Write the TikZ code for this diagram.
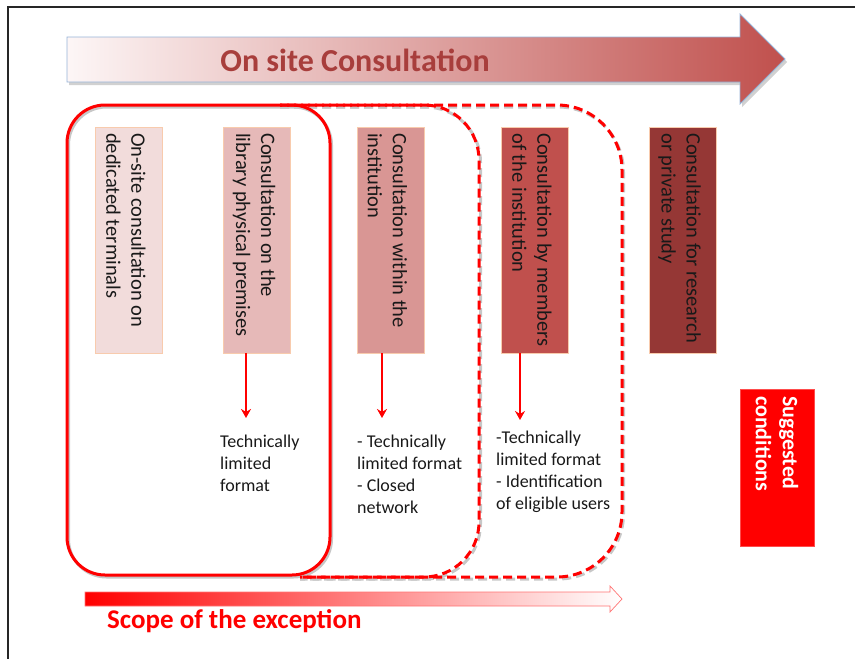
\documentclass[tikz,border=0pt]{standalone}
\usepackage{fontspec}
\setmainfont{Carlito}
\usetikzlibrary{arrows.meta}
\definecolor{c1}{HTML}{F2DCDB}
\definecolor{c2}{HTML}{E6B9B8}
\definecolor{c3}{HTML}{D99694}
\definecolor{c4}{HTML}{C0504D}
\definecolor{c5}{HTML}{953735}
\definecolor{titlered}{HTML}{A83E3C}
\definecolor{outlineblue}{HTML}{95B3D7}
\definecolor{boxedge}{HTML}{F8CBAD}
\definecolor{pure}{HTML}{FF0000}
\definecolor{paleleft}{HTML}{FDF6F6}
\begin{document}
\begin{tikzpicture}[x=1pt,y=-1pt,
  stagebox/.style={draw=boxedge, line width=0.6pt, inner sep=0pt, minimum width=67pt, minimum height=226pt},
  vtext/.style={rotate=-90, anchor=west, align=left, inner sep=0pt, text=black!90, font=\fontsize{20.5}{25}\selectfont},
  ltext/.style={anchor=base west, align=left, inner sep=0pt, text=black!90, font=\fontsize{18}{22}\selectfont},
  arr/.style={draw=pure, line width=2pt, -{Stealth[length=9pt,width=10pt]}},
  scopeline/.style={draw=pure, line width=3pt},
  dashline/.style={draw=pure, line width=3pt, dash pattern=on 9pt off 5pt},
  shadowline/.style={draw=black!22, line width=3pt}
]
\useasboundingbox (0,0) rectangle (855,659);
% frame
\draw[line width=1.6pt, black!85] (8,659) -- (8,7) -- (855,7);

% top arrow with shadow
\fill[black!18] (69,40) -- (742,40) -- (742,17) -- (787,62) -- (742,107) -- (742,85) -- (69,85) -- cycle;
\shadedraw[left color=paleleft, right color=c4, draw=outlineblue, line width=0.8pt]
  (67,37) -- (740,37) -- (740,14) -- (785,59) -- (740,104) -- (740,82) -- (67,82) -- cycle;
\node[anchor=base, inner sep=0pt, text=titlered, font=\bfseries\fontsize{32}{36}\selectfont] (title) at (355,71) {On site Consultation};

% scope outlines (shadows)
\draw[shadowline, dash pattern=on 9pt off 5pt, rounded corners=65pt] (280,107) -- (623.5,107) -- (623.5,579) -- (300,579);
\draw[shadowline, dash pattern=on 9pt off 5pt, rounded corners=55pt] (280,107) -- (480.5,107) -- (480.5,579) -- (300,579);
\draw[shadowline, rounded corners=38pt] (68.5,107) rectangle (331.5,577);
% scope outlines
\draw[dashline, rounded corners=65pt] (280,105) -- (622,105) -- (622,577) -- (300,577);
\draw[dashline, dash phase=7pt, rounded corners=55pt] (280,105) -- (479,105) -- (479,577) -- (300,577);
\draw[scopeline, rounded corners=38pt] (67,105) rectangle (330,575);

% stage boxes
\node[stagebox, fill=c1] (b1) at (129,240) {};
\node[stagebox, fill=c2] (b2) at (257,240) {};
\node[stagebox, fill=c3] (b3) at (390.5,240) {};
\node[stagebox, fill=c4] (b4) at (535,240) {};
\node[stagebox, fill=c5] (b5) at (682.5,240.5) {};

\node[vtext] (v1) at (126,133) {On-site consultation on\\dedicated terminals};
\node[vtext] (v2) at (254,133) {Consultation on the\\library physical premises};
\node[vtext] (v3) at (387.5,133) {Consultation within the\\institution};
\node[vtext] (v4) at (532,133) {Consultation by members\\of the institution};
\node[vtext] (v5) at (679.5,133) {Consultation for research\\or private study};

% arrows
\coordinate (a2) at (246,418);
\coordinate (a3) at (382,418);
\coordinate (a4) at (520,420);
\draw[arr] (b2.south -| a2) -- (a2);
\draw[arr] (b3.south -| a3) -- (a3);
\draw[arr] (b4.south -| a4) -- (a4);

% conditions (anchored at the baseline of the last line)
\node[ltext] (t2) at (220,491) {Technically\\limited\\format};
\node[ltext] (t3) at (357,513) {- Technically\\limited format\\- Closed\\network};
\node[ltext] (t4) at (496,509) {-Technically\\limited format\\- Identification\\of eligible users};

% suggested conditions
\node[fill=pure, draw=pure!70, inner sep=0pt, minimum width=74pt, minimum height=157pt] (sc) at (777,467.5) {};
\node[rotate=-90, anchor=west, align=left, inner sep=0pt, text=white, font=\bfseries\fontsize{22}{27}\selectfont] (sct) at (777,396) {Suggested\\conditions};

% scope arrow
\shadedraw[left color=pure, right color=white, draw=pure!55, line width=0.7pt]
  (85,592) -- (610,592) -- (610,586) -- (622,599) -- (610,612) -- (610,606) -- (85,606) -- cycle;
\node[anchor=base west, inner sep=0pt, text=pure, font=\bfseries\fontsize{27}{30}\selectfont] (scope) at (107,628) {Scope of the exception};
\end{tikzpicture}
\end{document}
